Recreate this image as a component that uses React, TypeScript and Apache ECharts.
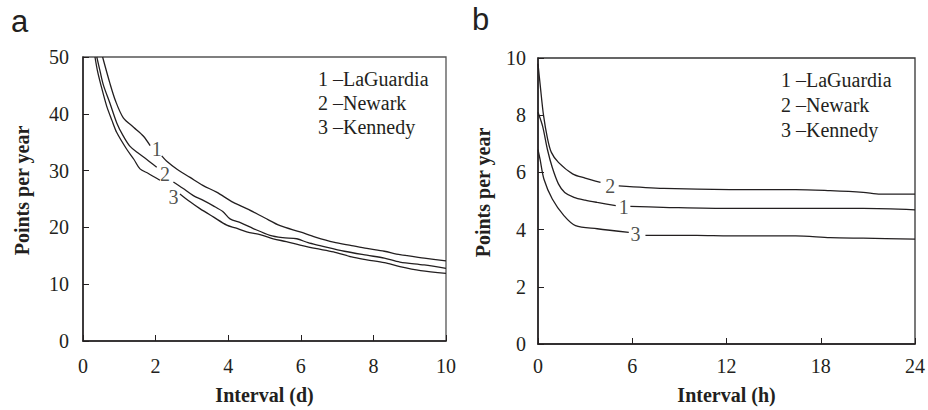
import React, { useEffect, useRef } from "react";
import * as echarts from "echarts";

const SERIF = "'Liberation Serif', 'Times New Roman', serif";
const SANS = "'Liberation Sans', Arial, sans-serif";
const INK = "#231f20";

const stationNames = ["LaGuardia", "Newark", "Kennedy"];
const stationNumbers = ["1", "2", "3"];

// Panel a: interval in days
const aLaGuardia: (number | string)[][] = [
  [0.54, 50], [0.74, 45.4], [0.9, 42.2], [1.11, 39.3], [1.4, 37.6], [1.66, 36.1], [1.85, 34.4],
  [2.0, "-"],
  [2.17, 32.6], [2.3, 31.7], [2.6, 30.2], [2.95, 28.8], [3.3, 27.4], [3.68, 26.2], [4.14, 24.4],
  [4.51, 23.3], [5.0, 21.7], [5.43, 20.3], [5.98, 19.2], [6.4, 18.3], [6.9, 17.4], [7.4, 16.8],
  [7.82, 16.3], [8.3, 15.8], [8.73, 15.2], [9.4, 14.6], [10, 14.1],
];
const aNewark: (number | string)[][] = [
  [0.38, 50], [0.47, 47.5], [0.56, 45.1], [0.74, 41.9], [0.93, 38.4], [1.1, 36.2], [1.29, 34.3],
  [1.5, 33.2], [1.75, 32.0], [2.03, 30.6],
  [2.2, "-"],
  [2.49, 28.0], [2.75, 26.9], [3.04, 25.6], [3.3, 24.8], [3.59, 23.8], [3.85, 22.8], [4.05, 21.5],
  [4.35, 20.8], [4.69, 19.8], [5.15, 18.6], [5.5, 18.2], [5.89, 18.0], [6.2, 17.3], [6.53, 16.8],
  [7.2, 15.8], [7.82, 15.1], [8.3, 14.6], [8.73, 13.9], [9.4, 13.4], [10, 12.8],
];
const aKennedy: (number | string)[][] = [
  [0.33, 50], [0.4, 47.5], [0.48, 45.4], [0.65, 41.4], [0.8, 38.8], [0.93, 36.7], [1.2, 33.8],
  [1.4, 32.0], [1.57, 30.3], [1.8, 29.5], [2.12, 28.3],
  [2.4, "-"],
  [2.67, 25.9], [2.95, 24.5], [3.22, 23.3], [3.6, 21.8], [3.96, 20.4], [4.2, 19.9], [4.51, 19.2],
  [4.9, 18.7], [5.24, 18.0], [5.6, 17.5], [5.98, 16.9], [6.4, 16.3], [6.9, 15.7], [7.4, 14.8],
  [7.82, 14.3], [8.3, 13.8], [8.73, 13.1], [9.3, 12.4], [10, 11.9],
];
const aCurveLabels: (number | string)[][] = [
  [2.03, 33.8, "1"],
  [2.26, 29.4, "2"],
  [2.49, 25.3, "3"],
];

// Panel b: interval in hours
const bLaGuardia: (number | string)[][] = [
  [0, 8.1], [0.3, 7.6], [0.6, 6.8], [0.91, 6.17], [1.3, 5.6], [1.7, 5.3], [2.29, 5.13], [3.0, 5.03],
  [3.77, 4.95], [4.95, 4.84],
  [5.4, "-"],
  [5.88, 4.81], [7.96, 4.78], [12.2, 4.74], [16.4, 4.74], [20.7, 4.74], [24, 4.69],
];
const bNewark: (number | string)[][] = [
  [0, 9.8], [0.15, 9.0], [0.35, 8.0], [0.6, 7.2], [0.85, 6.7], [1.3, 6.35], [2.2, 5.95], [3.0, 5.8],
  [3.98, 5.65],
  [4.6, "-"],
  [5.14, 5.53], [8, 5.44], [12.2, 5.4], [16.4, 5.4], [18.6, 5.36], [20.7, 5.3], [21.8, 5.24], [24, 5.24],
];
const bKennedy: (number | string)[][] = [
  [0, 6.8], [0.13, 6.46], [0.38, 5.76], [0.91, 5.07], [1.65, 4.49], [2.39, 4.14], [3.77, 4.03], [5.78, 3.9],
  [6.3, "-"],
  [6.84, 3.8], [8, 3.8], [10.1, 3.8], [12.2, 3.78], [16.4, 3.78], [18.6, 3.72], [20.7, 3.7], [24, 3.67],
];
const bCurveLabels: (number | string)[][] = [
  [5.46, 4.78, "1"],
  [4.6, 5.53, "2"],
  [6.2, 3.85, "3"],
];

const legendLines = stationNumbers.map((n, i) => `${n} \u2013${stationNames[i]}`);

function lineSeries(name: string, data: (number | string)[][], idx: number) {
  return {
    type: "line",
    name,
    xAxisIndex: idx,
    yAxisIndex: idx,
    data,
    showSymbol: false,
    symbol: "none",
    connectNulls: false,
    smooth: 0.3,
    lineStyle: { color: INK, width: 1.3 },
    silent: true,
  };
}

function labelSeries(data: (number | string)[][], idx: number) {
  return {
    type: "scatter",
    xAxisIndex: idx,
    yAxisIndex: idx,
    data,
    symbolSize: 0,
    silent: true,
    label: {
      show: true,
      position: "inside",
      formatter: (p: any) => p.value[2],
      fontFamily: SERIF,
      fontSize: 20,
      color: INK,
    },
  };
}

function xAxisFor(idx: number, max: number, interval: number, name: string, margin: number, nameGap: number) {
  return {
    type: "value",
    gridIndex: idx,
    min: 0,
    max,
    interval,
    name,
    nameLocation: "middle",
    nameGap,
    nameTextStyle: { fontFamily: SERIF, fontWeight: "bold", fontSize: 20, color: INK },
    axisLine: { show: true, lineStyle: { color: INK, width: 1.5 } },
    axisTick: { show: true, inside: true, length: 6, lineStyle: { color: INK, width: 1 } },
    axisLabel: { fontFamily: SERIF, fontSize: 20, color: INK, margin },
    splitLine: { show: false },
  };
}

function yAxisFor(idx: number, max: number, interval: number, margin: number, nameGap: number) {
  return {
    type: "value",
    gridIndex: idx,
    min: 0,
    max,
    interval,
    name: "Points per year",
    nameLocation: "middle",
    nameGap,
    nameTextStyle: {
      fontFamily: SERIF,
      fontWeight: "bold",
      fontSize: 20,
      color: INK,
      padding: [0, 0, 0, 17],
    },
    axisLine: { show: true, lineStyle: { color: INK, width: 1.5 } },
    axisTick: { show: true, inside: true, length: 6, lineStyle: { color: INK, width: 1 } },
    axisLabel: { fontFamily: SERIF, fontSize: 20, color: INK, margin },
    splitLine: { show: false },
  };
}

function legendGraphic(left: number, top: number, gap: number) {
  return legendLines.map((t, i) => ({
    type: "text",
    left,
    top: top + i * gap,
    style: { text: t, fontFamily: SERIF, fontSize: 20, fill: INK },
    silent: true,
  }));
}

export default function App() {
  const ref = useRef<HTMLDivElement>(null);
  useEffect(() => {
    if (!ref.current) return;
    const chart = echarts.init(ref.current, null, { renderer: "svg" });
    chart.setOption({
      animation: false,
      backgroundColor: "#ffffff",
      textStyle: { fontFamily: SERIF },
      grid: [
        { left: 83, top: 57, width: 363, height: 286, show: true, borderColor: "#555", borderWidth: 1.3 },
        { left: 538, top: 58, width: 378, height: 288, show: true, borderColor: "#333", borderWidth: 1.3 },
      ],
      xAxis: [
        xAxisFor(0, 10, 2, "Interval (d)", 15, 44),
        xAxisFor(1, 24, 6, "Interval (h)", 12, 41),
      ],
      yAxis: [
        yAxisFor(0, 50, 10, 14, 51),
        yAxisFor(1, 10, 2, 12, 45),
      ],
      series: [
        lineSeries(stationNames[0], aLaGuardia, 0),
        lineSeries(stationNames[1], aNewark, 0),
        lineSeries(stationNames[2], aKennedy, 0),
        labelSeries(aCurveLabels, 0),
        lineSeries(stationNames[0], bLaGuardia, 1),
        lineSeries(stationNames[1], bNewark, 1),
        lineSeries(stationNames[2], bKennedy, 1),
        labelSeries(bCurveLabels, 1),
      ],
      graphic: [
        { type: "text", left: 11, top: 6, style: { text: "a", fontFamily: SANS, fontSize: 31, fill: INK } },
        { type: "text", left: 472, top: 4, style: { text: "b", fontFamily: SANS, fontSize: 31, fill: INK } },
        ...legendGraphic(318, 69, 24),
        ...legendGraphic(781, 70, 25),
      ],
    });
    return () => chart.dispose();
  }, []);
  return (
    <div
      ref={ref}
      style={{ position: "fixed", left: 0, top: 0, width: 928, height: 410, background: "#fff" }}
    />
  );
}
